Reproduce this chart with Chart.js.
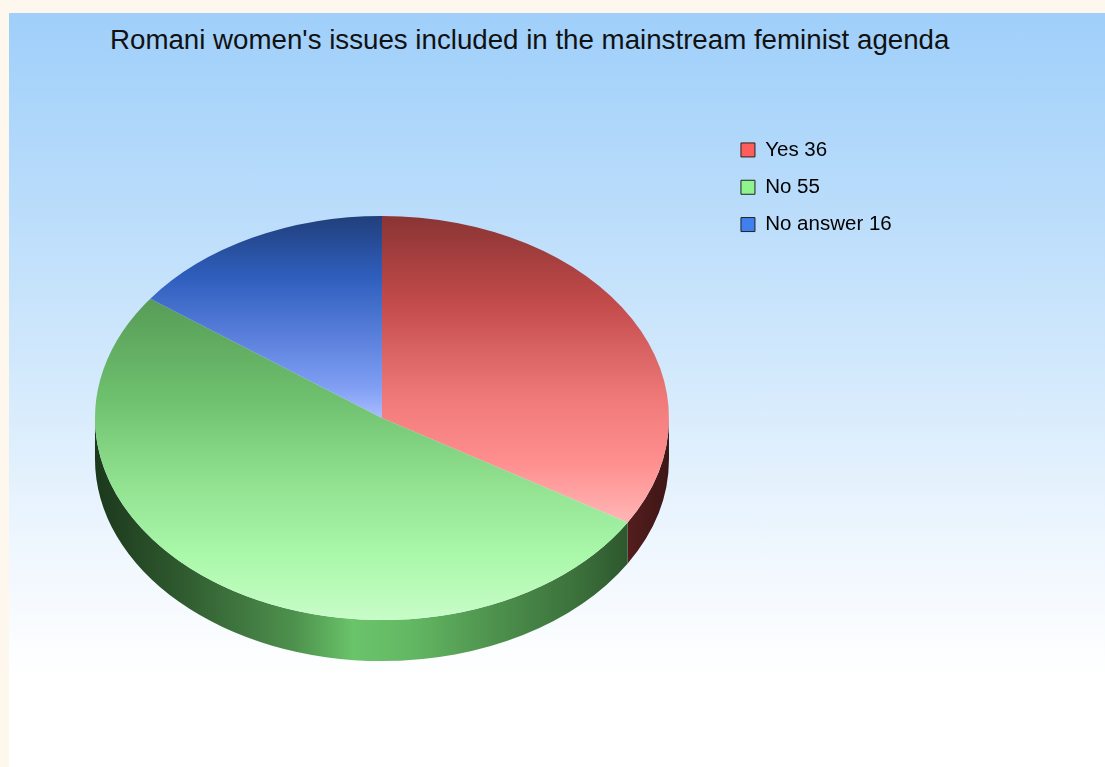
<!DOCTYPE html>
<html>
<head>
<meta charset="utf-8">
<script src="https://cdn.jsdelivr.net/npm/chart.js@4.4.1/dist/chart.umd.min.js"></script>
<style>
  html, body { margin: 0; padding: 0; background: #fef7ee; }
  #panel {
    position: absolute; left: 9px; top: 13px; width: 1096px; height: 754px;
    background: linear-gradient(to bottom, #9fcffa 0%, #b9dcfb 25%, #d3e9fc 48%, #eef6fe 70%, #ffffff 88%, #ffffff 100%);
  }
  #title {
    position: absolute; left: 101px; top: 11px; line-height: 32px;
    font-family: "Liberation Sans", Arial, sans-serif; font-size: 27.7px; color: #111;
    white-space: nowrap;
  }
  #pie { position: absolute; left: 0; top: 0; }
</style>
</head>
<body>
<div id="panel">
  <div id="title">Romani women's issues included in the mainstream feminist agenda</div>
  <canvas id="pie" width="1096" height="754"></canvas>
</div>
<script>
const labels = ['Yes', 'No', 'No answer'];
const values = [36, 55, 16];

// flat colours for the legend swatches
const legendColors = ['#ff5c5c', '#8ef48e', '#3f7fee'];

// top face shading, dark at the top of each slice to pale at its bottom
const faceStops = [
  [[0, '#8a3434'], [0.28, '#c24a4a'], [0.6, '#f07a7a'], [0.8, '#ff8e8e'], [1, '#ffb6b6']],
  [[0, '#579c57'], [0.3, '#6dbf6d'], [0.6, '#94e494'], [0.8, '#aaf8aa'], [1, '#c8fcc8']],
  [[0, '#213f7b'], [0.3, '#2e5ebd'], [0.6, '#5a80dc'], [0.85, '#809ff4'], [1, '#aabdff']]
];

// rim shading across the width of the pie
const sideStops = [
  [[0, '#3a1212'], [0.2, '#5e2222'], [0.45, '#a84040'], [0.55, '#a03c3c'], [0.8, '#6a2626'], [0.9, '#5c2020'], [1, '#3e1616']],
  [[0, '#1c381c'], [0.15, '#2f5a2f'], [0.35, '#4e924e'], [0.45, '#6ac46a'], [0.55, '#63b863'], [0.7, '#4d904d'], [0.85, '#3a6e3a'], [1, '#224222']],
  [[0, '#101e40'], [0.2, '#1c3468'], [0.45, '#3466c0'], [0.55, '#3060b8'], [0.8, '#1c3468'], [1, '#101e40']]
];

const tilt = 0.704;   // vertical squash of the pie
const depth = 41;     // rim height in px

function spans(a, s, e) {
  let t = a;
  while (t < s) t += Math.PI * 2;
  return t <= e;
}

function faceFill(c) {
  const el = c.element;
  const i = c.dataIndex;
  if (!el || el.outerRadius === undefined || isNaN(el.y)) return legendColors[i];
  const r = el.outerRadius;
  const ys = [el.y, el.y + r * Math.sin(el.startAngle), el.y + r * Math.sin(el.endAngle)];
  if (spans(-Math.PI / 2, el.startAngle, el.endAngle)) ys.push(el.y - r);
  if (spans(Math.PI / 2, el.startAngle, el.endAngle)) ys.push(el.y + r);
  const g = c.chart.ctx.createLinearGradient(0, Math.min(...ys), 0, Math.max(...ys));
  faceStops[i].forEach(s => g.addColorStop(s[0], s[1]));
  return g;
}

const pie3d = {
  id: 'pie3d',
  beforeDatasetsDraw(chart) {
    const ctx = chart.ctx;
    const arcs = chart.getDatasetMeta(0).data;
    if (!arcs.length) return;
    const cx = arcs[0].x, cy = arcs[0].y, r = arcs[0].outerRadius;
    const ry = r * tilt;
    // rim: only the front half (angles 0..PI) is visible
    arcs.forEach((el, i) => {
      let s = el.startAngle, e = el.endAngle;
      while (s < 0) { s += Math.PI * 2; e += Math.PI * 2; }
      const parts = [[s, e], [s - Math.PI * 2, e - Math.PI * 2]];
      parts.forEach(([a0, b0]) => {
        const a = Math.max(a0, 0), b = Math.min(b0, Math.PI);
        if (b <= a) return;
        const g = ctx.createLinearGradient(cx - r, 0, cx + r, 0);
        sideStops[i].forEach(st => g.addColorStop(st[0], st[1]));
        ctx.save();
        ctx.beginPath();
        ctx.ellipse(cx, cy, r, ry, 0, a, b);
        ctx.ellipse(cx, cy + depth, r, ry, 0, b, a, true);
        ctx.closePath();
        ctx.fillStyle = g;
        ctx.fill();
        ctx.restore();
      });
    });
    // squash the library's circular slices into an ellipse
    ctx.save();
    ctx.translate(0, cy);
    ctx.scale(1, tilt);
    ctx.translate(0, -cy);
  },
  afterDatasetsDraw(chart) {
    if (chart.getDatasetMeta(0).data.length) chart.ctx.restore();
  }
};

const chart = new Chart(document.getElementById('pie'), {
  type: 'pie',
  data: {
    labels: labels,
    datasets: [{
      data: values,
      backgroundColor: faceFill,
      borderWidth: 0,
      radius: 287,
      clip: false
    }]
  },
  options: {
    responsive: false,
    animation: false,
    devicePixelRatio: 1,
    layout: { padding: { left: 30.8, right: 203.3, top: 109.9, bottom: 53.9 } },
    plugins: {
      title: { display: false },
      tooltip: { enabled: false },
      legend: {
        position: 'right',
        align: 'start',
        labels: {
          boxWidth: 14,
          boxHeight: 14,
          padding: 16.8,
          color: '#111',
          font: { family: '"Liberation Sans", Arial, sans-serif', size: 20.5 },
          generateLabels: () => labels.map((l, i) => ({
            text: l + ' ' + values[i],
            fillStyle: legendColors[i],
            strokeStyle: '#222',
            lineWidth: 1,
            hidden: false,
            index: i
          }))
        }
      }
    }
  },
  plugins: [pie3d]
});
chart.update('none');
</script>
</body>
</html>
